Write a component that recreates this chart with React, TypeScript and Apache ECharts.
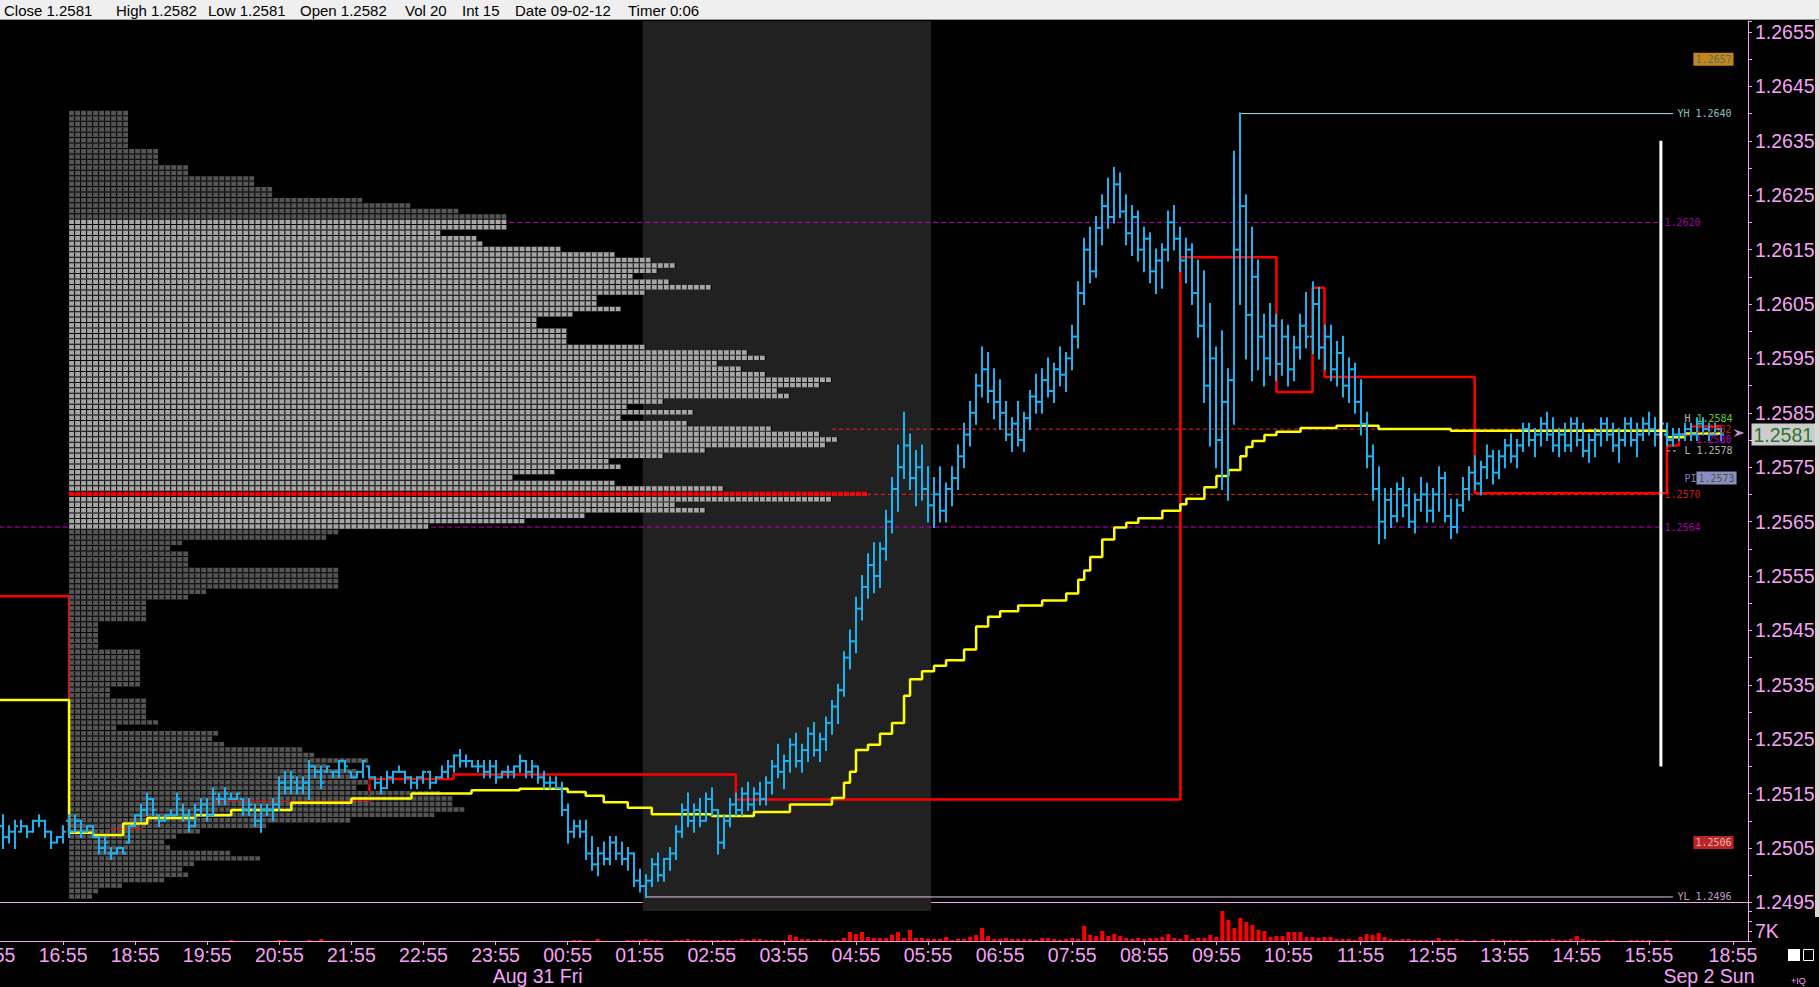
import React, { useEffect, useRef } from 'react';
import * as echarts from 'echarts';

// ---------------------------------------------------------------------------
// DATA  (all prices are expressed in pips above PIP_BASE)
// ---------------------------------------------------------------------------
const PIP_BASE = 1.2495;

// trading sessions of 5-minute bars shown on the time axis
const SESSIONS = [
  { day: 'Thu', nextDay: 'Thu', start: '15:55', bars: 13 },
  { day: 'Thu', nextDay: 'Fri', start: '18:00', bars: 266 },
  { day: 'Sun', nextDay: 'Sun', start: '18:00', bars: 14 },
];

const HEADER_FIELDS = [
  ['Close', '1.2581'], ['High', '1.2582'], ['Low', '1.2581'], ['Open', '1.2582'],
  ['Vol', '20'], ['Int', '15'], ['Date', '09-02-12'], ['Timer', '0:06'],
];

const DATE_LABELS: Record<string, string> = { 'Fri 00:30': 'Aug 31 Fri', 'Sun 18:35': 'Sep 2 Sun' };

// OHLC bars [open, high, low, close]
const THU_FIRST = 'Thu 16:05';
const THU_BARS = [
  [14, 16, 10, 12], [12, 14, 11, 13], [13, 15, 10, 14], [13, 15, 13, 14], [14, 14, 12, 13], [13, 15, 13, 15],
  [15, 16, 14, 15], [15, 15, 12, 13], [13, 13, 10, 11], [11, 12, 11, 12], [12, 14, 11, 13],
];
const FRI_FIRST = 'Thu 18:00';
const FRI_BARS = [
  // 18:00
  [15, 16, 12, 13], [13, 16, 13, 15], [15, 15, 12, 13], [13, 14, 13, 14], [14, 14, 12, 12], [12, 12, 9, 10],
  [10, 12, 9, 11], [9, 10, 8, 9], [9, 10, 9, 10], [10, 10, 9, 9], [11, 14, 11, 14], [14, 16, 14, 16],
  // 19:00
  [16, 18, 15, 17], [17, 20, 16, 19], [19, 19, 16, 17], [16, 16, 14, 15], [15, 16, 15, 16], [16, 17, 16, 16],
  [16, 20, 16, 19], [17, 18, 15, 16], [16, 17, 13, 14], [14, 18, 14, 17], [17, 19, 16, 18], [18, 19, 15, 16],
  // 20:00
  [16, 21, 16, 20], [19, 20, 18, 19], [19, 21, 18, 20], [19, 20, 19, 19], [19, 20, 19, 20], [19, 19, 16, 17],
  [17, 19, 16, 18], [17, 18, 14, 15], [15, 18, 13, 17], [17, 18, 16, 17], [17, 19, 15, 18], [18, 23, 17, 22],
  // 21:00
  [22, 24, 20, 21], [21, 24, 20, 23], [22, 23, 20, 21], [21, 23, 20, 22], [22, 26, 19, 25], [25, 25, 23, 24],
  [24, 25, 21, 22], [24, 25, 24, 25], [24, 24, 23, 24], [24, 26, 23, 26], [26, 26, 24, 25], [24, 24, 23, 23],
  // 22:00
  [23, 24, 23, 24], [24, 26, 23, 26], [25, 25, 23, 23], [23, 23, 21, 22], [22, 23, 20, 21], [21, 24, 21, 23],
  [23, 24, 22, 24], [24, 25, 24, 24], [24, 24, 22, 23], [23, 23, 21, 22], [22, 23, 21, 23], [23, 24, 22, 24],
  // 23:00
  [24, 24, 21, 22], [22, 23, 22, 23], [23, 25, 23, 24], [24, 26, 23, 25], [25, 27, 24, 27], [27, 28, 25, 26],
  [26, 27, 25, 26], [26, 26, 25, 25], [25, 26, 24, 25], [25, 26, 23, 24], [24, 26, 23, 25], [25, 26, 22, 23],
  // 00:00
  [23, 24, 23, 24], [24, 25, 23, 24], [24, 25, 23, 25], [25, 27, 24, 26], [26, 26, 23, 24], [24, 26, 23, 25],
  [25, 25, 22, 23], [23, 24, 21, 22], [22, 23, 21, 22], [22, 23, 21, 21], [21, 22, 16, 17], [17, 18, 11, 13],
  // 01:00
  [13, 15, 12, 14], [14, 15, 12, 13], [13, 15, 8, 9], [9, 12, 6, 7], [7, 10, 5, 9], [9, 11, 7, 8],
  [8, 12, 7, 11], [11, 12, 8, 9], [9, 11, 7, 8], [8, 10, 6, 9], [9, 9, 3, 4], [4, 6, 2, 3],
  // 02:00
  [3, 5, 1, 4], [4, 8, 3, 7], [7, 9, 4, 5], [5, 8, 4, 8], [8, 10, 6, 9], [9, 14, 8, 13],
  [13, 18, 12, 17], [17, 20, 14, 15], [15, 18, 13, 17], [17, 19, 14, 15], [15, 20, 15, 19], [19, 21, 16, 17],
  // 03:00
  [17, 17, 9, 11], [11, 16, 10, 15], [15, 19, 14, 18], [18, 20, 16, 17], [17, 21, 16, 20], [20, 22, 17, 18],
  [18, 21, 17, 20], [20, 22, 18, 19], [19, 23, 18, 22], [22, 26, 20, 25], [25, 29, 23, 24], [24, 27, 21, 26],
  // 04:00
  [26, 30, 24, 29], [29, 31, 25, 26], [26, 29, 24, 28], [28, 32, 26, 31], [31, 33, 27, 28], [28, 31, 26, 30],
  [30, 34, 28, 33], [33, 37, 31, 36], [36, 40, 33, 39], [39, 46, 38, 45], [45, 50, 43, 48], [48, 56, 46, 54],
  // 05:00
  [54, 60, 52, 58], [58, 64, 56, 62], [62, 66, 57, 60], [60, 66, 58, 65], [65, 72, 63, 70], [70, 78, 68, 76],
  [76, 84, 72, 80], [80, 90, 78, 84], [84, 86, 76, 78], [78, 83, 73, 80], [80, 84, 74, 76], [76, 80, 70, 73],
  // 06:00
  [73, 78, 69, 75], [75, 80, 70, 72], [72, 77, 70, 76], [76, 80, 73, 78], [78, 84, 76, 82], [82, 88, 80, 86],
  [86, 92, 84, 90], [90, 97, 88, 95], [95, 102, 93, 98], [98, 101, 92, 94], [94, 98, 89, 92], [92, 96, 87, 90],
  // 07:00
  [90, 92, 85, 86], [86, 89, 83, 88], [88, 92, 84, 85], [85, 90, 83, 89], [89, 94, 87, 93], [93, 97, 90, 92],
  [92, 98, 90, 96], [96, 100, 93, 94], [94, 99, 92, 98], [98, 102, 95, 97], [97, 101, 94, 100], [100, 106, 98, 104],
  // 08:00
  [104, 114, 102, 112], [112, 122, 110, 120], [120, 124, 114, 116], [116, 126, 115, 124], [124, 130, 121, 128], [128, 133, 124, 126],
  [126, 135, 125, 132], [132, 134, 126, 127], [127, 130, 121, 123], [123, 128, 119, 126], [126, 127, 118, 120], [120, 124, 116, 122],
  // 09:00
  [122, 123, 114, 116], [116, 120, 112, 118], [118, 121, 113, 120], [120, 127, 118, 125], [125, 128, 120, 122], [122, 124, 116, 118],
  [118, 122, 114, 120], [120, 121, 110, 112], [112, 118, 104, 106], [106, 116, 92, 95], [95, 110, 84, 100], [100, 102, 80, 85],
  // 10:00
  [85, 105, 76, 92], [92, 98, 74, 96], [96, 138, 88, 120], [120, 145, 110, 128], [128, 130, 100, 108], [108, 124, 96, 115],
  [115, 118, 98, 104], [104, 108, 95, 100], [100, 110, 97, 106], [106, 108, 96, 99], [99, 107, 97, 104], [104, 106, 95, 98],
  // 11:00
  [98, 104, 96, 102], [102, 108, 100, 106], [106, 112, 102, 104], [104, 114, 101, 110], [110, 113, 100, 102], [102, 106, 98, 104],
  [104, 106, 96, 98], [98, 103, 95, 101], [101, 104, 93, 95], [95, 100, 92, 98], [98, 99, 90, 92], [92, 96, 86, 88],
  // 12:00
  [88, 90, 80, 82], [82, 84, 74, 76], [76, 80, 66, 70], [70, 76, 67, 74], [74, 76, 69, 71], [71, 77, 70, 76],
  [76, 78, 71, 73], [73, 76, 69, 70], [70, 75, 68, 74], [74, 78, 72, 75], [75, 77, 70, 72], [72, 76, 70, 75],
  // 13:00
  [75, 80, 72, 78], [78, 79, 70, 71], [71, 74, 67, 69], [69, 74, 68, 73], [73, 78, 72, 76], [76, 80, 74, 79],
  [79, 82, 76, 77], [77, 81, 75, 80], [80, 84, 78, 82], [82, 83, 77, 79], [79, 83, 78, 82], [82, 85, 80, 84],
  // 14:00
  [84, 86, 81, 82], [82, 85, 80, 84], [84, 88, 83, 87], [87, 88, 84, 85], [85, 87, 82, 86], [86, 89, 84, 88],
  [88, 90, 85, 86], [86, 89, 83, 84], [84, 87, 82, 86], [86, 88, 83, 84], [84, 89, 83, 88], [88, 89, 84, 85],
  // 15:00
  [85, 88, 82, 83], [83, 86, 81, 85], [85, 87, 82, 86], [86, 89, 84, 88], [88, 89, 85, 86], [86, 88, 83, 84],
  [84, 87, 81, 85], [85, 89, 84, 88], [88, 89, 84, 85], [85, 88, 82, 86], [86, 89, 85, 88], [88, 90, 86, 87],
  // 16:00
  [87, 89, 84, 86], [86, 91, 85, 88],
];
const SUN_FIRST = 'Sun 18:00';
const SUN_BARS = [
  [86, 88, 84, 85], [85, 87, 84, 86], [86, 87, 85, 86], [86, 88, 85, 87], [87, 88, 85, 86],
  [86, 89, 85, 88], [88, 89, 86, 87], [87, 88, 85, 86], [86, 88, 86, 87], [87, 87, 85, 86],
];

// volume per bar: [bar index on the time axis, contracts]
const VOLUME = [
  [40, 700], [48, 700], [49, 700], [53, 700], [55, 1400], [97, 700], [98, 700], [101, 1400],
  [106, 700], [107, 700], [108, 700], [109, 1400], [110, 700], [111, 700], [114, 700], [115, 700],
  [116, 1400], [117, 700], [118, 700], [119, 700], [120, 700], [121, 700], [122, 700], [123, 700],
  [124, 700], [125, 1400], [126, 700], [127, 1400], [128, 1400], [129, 700], [130, 700], [131, 700],
  [132, 700], [133, 4200], [134, 2800], [135, 1400], [136, 1400], [137, 700], [138, 1400], [139, 700],
  [140, 700], [141, 700], [142, 2100], [143, 6300], [144, 4900], [145, 6300], [146, 2800], [147, 2100],
  [148, 2100], [149, 2100], [150, 4200], [151, 6300], [152, 2100], [153, 7700], [154, 2100], [155, 2100],
  [156, 1400], [157, 1400], [158, 1400], [159, 2800], [160, 700], [161, 1400], [162, 1400], [163, 2800],
  [164, 4200], [165, 9100], [166, 3500], [167, 1400], [168, 1400], [169, 2100], [170, 1400], [171, 1400],
  [172, 1400], [173, 1400], [174, 700], [175, 2100], [176, 2100], [177, 1400], [178, 700], [179, 1400],
  [180, 2100], [181, 1400], [182, 10500], [183, 4200], [184, 3500], [185, 7000], [186, 3500], [187, 4900],
  [188, 3500], [189, 2100], [190, 1400], [191, 2100], [192, 1400], [193, 2100], [194, 2100], [195, 2800],
  [196, 4900], [197, 2100], [198, 1400], [199, 4200], [200, 1400], [201, 2100], [202, 2100], [203, 4200],
  [204, 2800], [205, 21000], [206, 14700], [207, 9100], [208, 16100], [209, 13300], [210, 11200], [211, 7700],
  [212, 7000], [213, 2800], [214, 3500], [215, 3500], [216, 6300], [217, 6300], [218, 6300], [219, 2800],
  [220, 2800], [221, 2100], [222, 2800], [223, 2800], [224, 1400], [225, 1400], [226, 1400], [227, 700],
  [228, 2800], [229, 4900], [230, 4200], [231, 5600], [232, 2800], [233, 1400], [234, 700], [235, 1400],
  [236, 1400], [237, 700], [238, 700], [239, 700], [240, 700], [241, 2100], [242, 700], [243, 700],
  [244, 1400], [245, 700], [247, 700], [250, 1400], [251, 700], [252, 700], [253, 700], [254, 700],
  [256, 700], [257, 700], [258, 700], [259, 700], [260, 1400], [261, 700], [262, 700], [263, 1400],
  [264, 3500], [265, 1400], [266, 700], [267, 700], [269, 700], [270, 700], [273, 700], [274, 700],
  [275, 700], [276, 700], [279, 700],
];

// developing VWAP (yellow) and developing POC (red): [bar index, pips] at each change
const VWAP_STEPS = [
  [0, 37.2], [13, 12.8], [17, 12.4], [22, 14.5], [26, 15.5], [34, 16], [40, 17], [50, 18.3], [60, 19.1],
  [70, 20], [80, 20.6], [88, 20.9], [96, 20.3], [99, 19.6], [102, 18.4], [106, 17.4], [110, 16.2],
  [120, 15.9], [127, 16.6], [133, 18], [140, 19.2], [142, 22], [143, 24], [144, 28], [146, 29], [148, 31],
  [150, 33], [152, 38], [153, 41], [155, 42.5], [157, 43.5], [159, 44.5], [162, 46.5], [164, 50.7],
  [166, 52.5], [168, 53.5], [171, 54.6], [175, 55.5], [179, 56.8], [181, 59.3], [182, 61], [183, 63.5],
  [185, 66.7], [187, 68.9], [189, 69.8], [191, 70.6], [195, 72], [198, 73.2], [199, 74.2], [202, 76.3],
  [204, 78.4], [206, 79.5], [208, 82], [209, 83.7], [210, 84.8], [212, 85.9], [214, 86.5], [218, 87.2],
  [224, 87.6], [231, 87], [243, 86.7], [279, 85.5], [282, 86.2], [288, 86.4],
];
const POC_STEPS = [
  [0, 56.3], [13, 14], [20, 13.5], [25, 16], [37, 18.5], [63, 22.7], [77, 23.5], [93, 23.5], [124, 18.9],
  [198, 118.6], [214, 93.8], [220, 113], [222, 96.6], [247, 75.2], [279, 84], [281, 86], [283, 87.5], [288, 87.5],
];

// volume profile of the Friday session: cells per price row, from PROFILE_TOP downwards
const PROFILE_TOP = 145;
const PROFILE_CELLS = [
  10, 10, 10, 10, 10, 10, 10, 15, 15, 15, 20, 20, 31, 31, 34, 34, 49, 57, 65, 73,
  73, 73, 62, 68, 69, 82, 91, 97, 101, 98, 94, 100, 107, 96, 88, 88, 92, 84, 78, 78,
  83, 83, 83, 96, 113, 116, 108, 112, 116, 127, 125, 118, 120, 99, 93, 104, 92, 103, 117, 125,
  128, 126, 106, 99, 90, 92, 81, 74, 91, 109, 133, 127, 101, 106, 86, 76, 60,
  45, 43, 19, 17, 20, 20, 20, 45, 45, 45, 45, 23, 20, 13, 13, 13, 13, 5, 5, 5,
  5, 5, 12, 12, 12, 12, 12, 12, 12, 7, 7, 13, 13, 13, 13, 15, 8, 25, 24, 26,
  39, 41, 50, 43, 48, 48, 50, 48, 62, 64, 64, 66, 61, 47, 33, 22, 18, 16, 17, 27,
  32, 21, 19, 20, 16, 9, 5, 4,
];

// key price levels (pips above PIP_BASE)
const VAH = 125;
const VAL = 69;
const POC = 75;
const YH = 145;
const YL = 1;
const HIGH_TODAY = 89;
const LOW_TODAY = 83;
const LEVEL_A = 87;
const LEVEL_B = 85;
const PIVOT = 78;
const LAST = 86;
const ALERT_UP = 155;
const ALERT_UP_TEXT = '1.2657';
const ALERT_DN = 11;
const RANGE_TOP = 140;
const RANGE_BOTTOM = 25;

// ---------------------------------------------------------------------------
const PINK = '#f6a2f6';
const SANS = '"Liberation Sans", Arial, sans-serif';
const MONO = '"DejaVu Sans Mono", monospace';
const BAR_COLOR = '#1ab2f0';

function buildCats() {
  const cats: string[] = [];
  for (const s of SESSIONS) {
    const [h, m] = s.start.split(':').map(Number);
    for (let i = 0; i < s.bars; i++) {
      let t = h * 60 + m + 5 * i;
      const d = t >= 1440 ? s.nextDay : s.day;
      t %= 1440;
      cats.push(`${d} ${String(Math.floor(t / 60)).padStart(2, '0')}:${String(t % 60).padStart(2, '0')}`);
    }
  }
  return cats;
}

const fmt = (u: number) => (PIP_BASE + u / 10000).toFixed(4);

function buildOption() {
  const CATS = buildCats();
  const idx = (name: string) => CATS.indexOf(name);
  const sessionStart = idx(FRI_FIRST);
  const endIdx = idx(SUN_FIRST) - 1; // last Friday bar
  const lastIdx = CATS.length - 1;

  const ohlc: number[][] = [];
  THU_BARS.forEach((b, k) => ohlc.push([idx(THU_FIRST) + k, ...b]));
  FRI_BARS.forEach((b, k) => ohlc.push([idx(FRI_FIRST) + k, ...b]));
  SUN_BARS.forEach((b, k) => ohlc.push([idx(SUN_FIRST) + k, ...b]));

  const profile = PROFILE_CELLS.map((n, k) => [sessionStart, PROFILE_TOP - k, n]);

  const hLine = (name: string, x0: number, x1: number, u: number, color: string, type: any, width = 1, z = 2) => ({
    type: 'line', name, z, symbol: 'none', silent: true, xAxisIndex: 0, yAxisIndex: 0,
    data: [[x0, u], [x1, u]],
    lineStyle: { color, width, type },
  });

  const tagX = endIdx;
  const tag = (u: number, text: string, color: string, dist: number, extra: any = {}) => ({
    value: [tagX, u],
    label: {
      show: true, position: 'right', distance: dist, formatter: text, color,
      fontFamily: MONO, fontSize: 10, ...extra,
    },
  });

  const isTime = (_i: number, v: string) => v.endsWith(':55');

  return {
    animation: false,
    backgroundColor: '#000000',
    textStyle: { fontFamily: SANS },
    grid: [
      { left: -12, right: 71, top: 21, bottom: 76, containLabel: false, outerBoundsMode: 'none' },
      { left: -12, right: 71, top: 911, bottom: 46, containLabel: false, outerBoundsMode: 'none' },
    ],
    xAxis: [
      {
        type: 'category', gridIndex: 0, data: CATS, boundaryGap: true,
        axisLine: { show: true, lineStyle: { color: PINK, width: 1 } },
        axisTick: { show: false }, axisLabel: { show: false }, splitLine: { show: false },
      },
      {
        type: 'category', gridIndex: 1, data: CATS, boundaryGap: true, position: 'bottom',
        axisLine: { show: true, lineStyle: { color: PINK, width: 1 } },
        axisTick: { show: true, alignWithLabel: true, interval: isTime, length: 4, lineStyle: { color: PINK } },
        axisLabel: {
          interval: isTime, color: PINK, fontSize: 19.5, fontFamily: SANS, margin: 4,
          formatter: (v: string) => v.slice(4),
        },
        splitLine: { show: false },
      },
      {
        type: 'category', gridIndex: 1, data: CATS, boundaryGap: true, position: 'bottom', offset: 21,
        axisLine: { show: false }, axisTick: { show: false },
        axisLabel: {
          interval: (_i: number, v: string) => v in DATE_LABELS,
          formatter: (v: string) => DATE_LABELS[v] || '',
          color: PINK, fontSize: 19.5, fontFamily: SANS, margin: 4,
        },
        splitLine: { show: false },
      },
    ],
    yAxis: [
      {
        type: 'value', gridIndex: 0, position: 'right', min: -1.58, max: 162.02,
        minInterval: 5, maxInterval: 5, splitNumber: 33, scale: true,
        axisLine: { show: true, lineStyle: { color: PINK, width: 1 } },
        axisTick: { show: true, length: 4, lineStyle: { color: PINK } },
        axisLabel: {
          color: PINK, fontSize: 19.5, fontFamily: SANS, margin: 7,
          formatter: (v: number) => {
            const r = Math.round(v);
            if (Math.abs(v - r) > 1e-6 || r % 10 !== 0) return '';
            return fmt(r);
          },
        },
        splitLine: { show: false },
      },
      {
        type: 'value', gridIndex: 1, position: 'right', min: 0, max: 21000, interval: 7000,
        axisLine: { show: true, lineStyle: { color: PINK, width: 1 } },
        axisTick: { show: true, length: 4, lineStyle: { color: PINK } },
        axisLabel: {
          color: PINK, fontSize: 19.5, fontFamily: SANS, margin: 7,
          formatter: (v: number) => (v === 7000 ? '7K' : ''),
        },
        splitLine: { show: false },
      },
    ],
    series: [
      // shaded overnight band 02:00 - 06:00
      {
        type: 'custom', z: 1, silent: true, xAxisIndex: 0, yAxisIndex: 0,
        data: [[idx('Fri 02:00'), idx('Fri 05:55'), 0]],
        encode: { x: [0, 1], y: 2 },
        renderItem: (params: any, api: any) => {
          const a = api.coord([api.value(0), 0]);
          const b = api.coord([api.value(1), 0]);
          const cw = api.size([1, 0])[0];
          const cs = params.coordSys;
          return {
            type: 'rect',
            shape: { x: a[0] - cw / 2, y: cs.y, width: b[0] - a[0] + cw, height: cs.height },
            style: { fill: '#212121' },
          };
        },
      },
      hLine('vah', sessionStart, endIdx, VAH, '#c000c0', [5, 3]),
      hLine('val', 0, endIdx, VAL, '#c000c0', [5, 3]),
      hLine('lvlA', idx('Fri 04:35'), endIdx, LEVEL_A, '#ff2020', [4, 3]),
      hLine('poc', sessionStart, endIdx, POC, '#ff2020', [4, 3]),
      // developing POC
      {
        type: 'line', name: 'dpoc', z: 3, symbol: 'none', step: 'end', silent: true,
        xAxisIndex: 0, yAxisIndex: 0, data: POC_STEPS,
        lineStyle: { color: '#ff0000', width: 2.5 },
      },
      // volume profile
      {
        type: 'custom', name: 'profile', z: 4, silent: true, xAxisIndex: 0, yAxisIndex: 0,
        data: profile, encode: { x: 0, y: 1 },
        renderItem: (_params: any, api: any) => {
          const i0 = api.value(0);
          const u = api.value(1);
          const n = api.value(2);
          const a = api.coord([i0, u + 0.5]);
          const b = api.coord([i0, u - 0.5]);
          const cw = api.size([1, 0])[0];
          const h = b[1] - a[1] - 1;
          const fill = u === POC ? '#ff0000' : (u <= VAH && u >= VAL ? '#a6a6a6' : '#555555');
          const x0 = a[0];
          return {
            type: 'group',
            children: [
              { type: 'rect', shape: { x: x0, y: a[1], width: n * cw - 1, height: h }, style: { fill } },
              {
                type: 'line',
                shape: { x1: x0 + cw - 1, y1: a[1] + h / 2, x2: x0 + n * cw, y2: a[1] + h / 2 },
                style: { stroke: '#000000', lineWidth: h, lineDash: [1, cw - 1] },
              },
            ],
          };
        },
      },
      hLine('yh', idx('Fri 10:15'), tagX + 2, YH, '#a8e4ec', 'solid', 1, 5),
      hLine('yl', idx('Fri 02:00'), tagX + 2, YL, '#e8c8e8', 'solid', 1, 5),
      hLine('lowlead', tagX + 1, tagX + 3, LOW_TODAY, '#c8c8c8', [3, 3], 1, 5),
      // VWAP
      {
        type: 'line', name: 'vwap', z: 6, symbol: 'none', step: 'end', silent: true,
        xAxisIndex: 0, yAxisIndex: 0, data: VWAP_STEPS,
        lineStyle: { color: '#ffff00', width: 2.5 },
      },
      // OHLC bars
      {
        type: 'custom', name: 'bars', z: 7, silent: true, xAxisIndex: 0, yAxisIndex: 0,
        data: ohlc, encode: { x: 0, y: [1, 2, 3, 4] },
        renderItem: (_params: any, api: any) => {
          const i = api.value(0);
          const o = api.coord([i, api.value(1)]);
          const h = api.coord([i, api.value(2)]);
          const l = api.coord([i, api.value(3)]);
          const c = api.coord([i, api.value(4)]);
          const x = Math.round(h[0]);
          const st = { stroke: BAR_COLOR, lineWidth: 2 };
          return {
            type: 'group',
            children: [
              { type: 'line', shape: { x1: x, y1: h[1] - 1, x2: x, y2: l[1] + 1 }, style: st },
              { type: 'line', shape: { x1: x - 3, y1: o[1], x2: x, y2: o[1] }, style: st },
              { type: 'line', shape: { x1: x, y1: c[1], x2: x + 3, y2: c[1] }, style: st },
            ],
          };
        },
      },
      // session range marker
      {
        type: 'line', name: 'range', z: 8, symbol: 'none', silent: true, xAxisIndex: 0, yAxisIndex: 0,
        data: [[tagX, RANGE_TOP], [tagX, RANGE_BOTTOM]],
        lineStyle: { color: '#ffffff', width: 3 },
      },
      // level tags
      {
        type: 'scatter', name: 'tags', z: 9, silent: true, xAxisIndex: 0, yAxisIndex: 0,
        symbolSize: 1, itemStyle: { color: 'rgba(0,0,0,0)' },
        data: [
          tag(VAH, fmt(VAH), '#d000d0', 3),
          tag(YH, 'YH ' + fmt(YH), '#b4f0f0', 16),
          tag(YL, 'YL ' + fmt(YL), '#f0c4f0', 16),
          tag(HIGH_TODAY, '{w|H }{g|' + fmt(HIGH_TODAY) + '}', '#80ff40', 23, {
            rich: {
              w: { color: '#e8e8e8', fontFamily: MONO, fontSize: 10 },
              g: { color: '#80ff40', fontFamily: MONO, fontSize: 10 },
            },
          }),
          tag(LEVEL_A, fmt(LEVEL_A), '#ff2020', 34),
          tag(LEVEL_B, fmt(LEVEL_B), '#e000e0', 34),
          tag(LOW_TODAY, 'L ' + fmt(LOW_TODAY), '#e0e0e0', 23),
          tag(PIVOT, '{a|PI}{b|' + fmt(PIVOT) + '}', '#a0a0ff', 23, {
            rich: {
              a: { color: '#a0a0ff', fontFamily: MONO, fontSize: 10 },
              b: { color: '#404010', backgroundColor: '#aab4f4', fontFamily: MONO, fontSize: 10, padding: [2, 2, 1, 2] },
            },
          }),
          tag(POC, fmt(POC), '#ff2020', 3),
          tag(VAL, fmt(VAL), '#d000d0', 3),
          tag(ALERT_UP, ALERT_UP_TEXT, '#1f6f6f', 32, { backgroundColor: '#f5a623', padding: [2, 2, 1, 2] }),
          tag(ALERT_DN, fmt(ALERT_DN), '#ffd8d8', 32, { backgroundColor: '#e83030', padding: [2, 2, 1, 2] }),
          {
            value: [lastIdx, LAST],
            label: {
              show: true, position: 'right', distance: 6, formatter: fmt(LAST),
              color: '#005a00', backgroundColor: '#ffffff', fontFamily: SANS, fontSize: 19.5,
              padding: [2, 2, 0, 2],
            },
          },
        ],
      },
      // last-price arrow
      {
        type: 'scatter', name: 'arrow', z: 9, silent: true, xAxisIndex: 0, yAxisIndex: 0,
        symbol: 'path://M0,0L12,6L0,12L4,6Z', symbolSize: [11, 8],
        itemStyle: { color: '#ffb4ff' },
        data: [[lastIdx - 1, LAST + 0.3]],
      },
      // volume
      {
        type: 'bar', name: 'volume', xAxisIndex: 1, yAxisIndex: 1, barWidth: 4, silent: true,
        itemStyle: { color: '#ff0000' },
        data: VOLUME,
      },
    ],
    graphic: [
      { type: 'rect', x: 0, y: 0, shape: { width: 1819, height: 19 }, style: { fill: '#efefef' }, silent: true },
      { type: 'line', shape: { x1: 0, y1: 19.5, x2: 1819, y2: 19.5 }, style: { stroke: '#9a9a9a', lineWidth: 1 }, silent: true },
      ...HEADER_FIELDS.map(([k, v], i) => ({
        type: 'text', silent: true,
        x: [4, 116, 208, 300, 405, 462, 515, 628][i], y: 10,
        style: { text: `${k} ${v}`, fill: '#000000', font: `15px ${SANS}`, verticalAlign: 'middle' },
      })),
      { type: 'rect', x: 1815, y: 20, shape: { width: 4, height: 897 }, style: { fill: '#d8d8d8' }, silent: true },
      { type: 'rect', x: 1788, y: 949, shape: { width: 12, height: 12 }, style: { fill: '#ffffff' }, silent: true },
      { type: 'rect', x: 1803.5, y: 949.5, shape: { width: 10, height: 11 }, style: { fill: 'none', stroke: '#ffffff', lineWidth: 1 }, silent: true },
      { type: 'text', x: 1791, y: 981, silent: true, style: { text: '+IQ', fill: PINK, font: `9px ${SANS}`, verticalAlign: 'middle' } },
    ],
  };
}

export default function App() {
  const ref = useRef<HTMLDivElement>(null);
  useEffect(() => {
    if (!ref.current) return;
    const chart = echarts.init(ref.current, null, { renderer: 'svg' });
    chart.setOption(buildOption() as any);
    return () => chart.dispose();
  }, []);
  return (
    <div
      ref={ref}
      style={{ position: 'fixed', left: 0, top: 0, width: 1819, height: 987, background: '#000' }}
    />
  );
}
